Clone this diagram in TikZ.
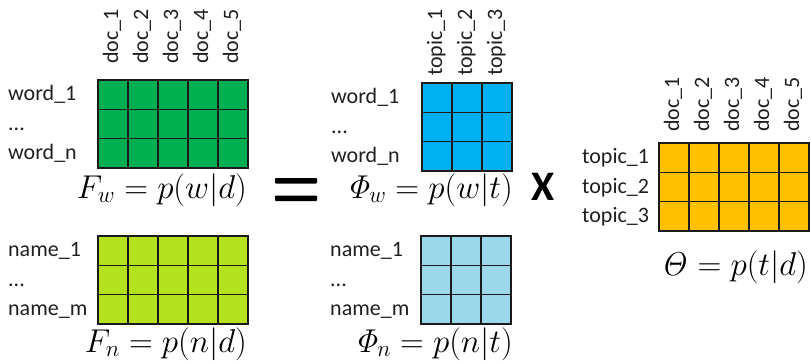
\RequirePackage{fix-cm}
\documentclass[tikz,border=0pt]{standalone}
\usepackage[no-math]{fontspec}
\setmainfont{Carlito}
\definecolor{cgreen}{HTML}{00B050}
\definecolor{clime}{HTML}{B4E21E}
\definecolor{cblue}{HTML}{00B0F0}
\definecolor{clblue}{HTML}{9BD8EA}
\definecolor{corange}{HTML}{FFC000}
\definecolor{edge}{HTML}{1A1A1A}
\definecolor{txt}{HTML}{1F1F1F}
\newcommand\drawmat[5]{%
  \node[mat, fill=#5, minimum width={#4*30}, anchor=north west] (#1) at (#2,#3) {};
  \foreach \i in {1,...,#4} {\ifnum\i<#4 \draw[gl] (#1.north west) ++(\i*30,0) -- ++(0,88);\fi}
  \foreach \j in {1,2} {\draw[gl] (#1.north west) ++(0,\j*88/3) -- ++(#4*30,0);}
}
\begin{document}
\begin{tikzpicture}[x=1pt,y=-1pt,
  mat/.style={draw=edge, line width=1.3pt, minimum height=88, inner sep=0pt, outer sep=0pt},
  gl/.style={draw=edge, line width=1.3pt},
  lbl/.style={font=\fontsize{22}{26}\selectfont, text=txt, inner sep=0pt, anchor=base west},
  clbl/.style={lbl, rotate=90},
  frm/.style={font=\fontsize{33}{38}\selectfont, inner sep=0pt, anchor=base east},
  bar/.style={fill=black, rounded corners=0.8pt}]
\useasboundingbox (0,0) rectangle (811,364);
% matrices
\drawmat{Fw}{98}{80}{5}{cgreen}
\drawmat{Pw}{422}{83}{3}{cblue}
\drawmat{Th}{659}{143}{5}{corange}
\drawmat{Fn}{98}{236}{5}{clime}
\drawmat{Pn}{421}{236}{3}{clblue}
% column labels
\foreach \k in {1,...,5} {
  \node[clbl] (Fwc\k) at (83+\k*30+5,64) {doc\_\k};
  \node[clbl] (Thc\k) at (644+\k*30+5,132) {doc\_\k};
}
\foreach \k in {1,...,3} {
  \node[clbl] (Pwc\k) at (407+\k*30+5,76) {topic\_\k};
}
% row labels
\node[lbl] (Fwr1) at (8,100.7) {word\_1};
\node[lbl] (Fwr2) at (8,130) {...};
\node[lbl] (Fwr3) at (8,159.3) {word\_n};
\node[lbl] (Pwr1) at (331,103.7) {word\_1};
\node[lbl] (Pwr2) at (331,133) {...};
\node[lbl] (Pwr3) at (331,162.3) {word\_n};
\node[lbl] (Fnr1) at (8,256.7) {name\_1};
\node[lbl] (Fnr2) at (8,286) {...};
\node[lbl] (Fnr3) at (8,315.3) {name\_m};
\node[lbl] (Pnr1) at (330,256.7) {name\_1};
\node[lbl] (Pnr2) at (330,286) {...};
\node[lbl] (Pnr3) at (330,315.3) {name\_m};
\node[lbl] (Thr1) at (582,163.7) {topic\_1};
\node[lbl] (Thr2) at (582,193) {topic\_2};
\node[lbl] (Thr3) at (582,222.3) {topic\_3};
% formulas
\node[frm] (Fwf) at (247,198) {$F_w = p(w|d)$};
\node[frm] (Pwf) at (513,198) {$\mathit{\Phi}_w = p(w|t)$};
\node[frm] (Fnf) at (247,352) {$F_n = p(n|d)$};
\node[frm] (Pnf) at (513,352) {$\mathit{\Phi}_n = p(n|t)$};
\node[frm] (Thf) at (808,275) {$\mathit{\Theta} = p(t|d)$};
% operators
\fill[bar] (275,178) rectangle (317,183.5);
\fill[bar] (275,195.5) rectangle (317,201);
\node[font=\bfseries\fontsize{42}{46}\selectfont, inner sep=0pt, anchor=base] (times) at (543.5,200) {X};
\end{tikzpicture}
\end{document}
